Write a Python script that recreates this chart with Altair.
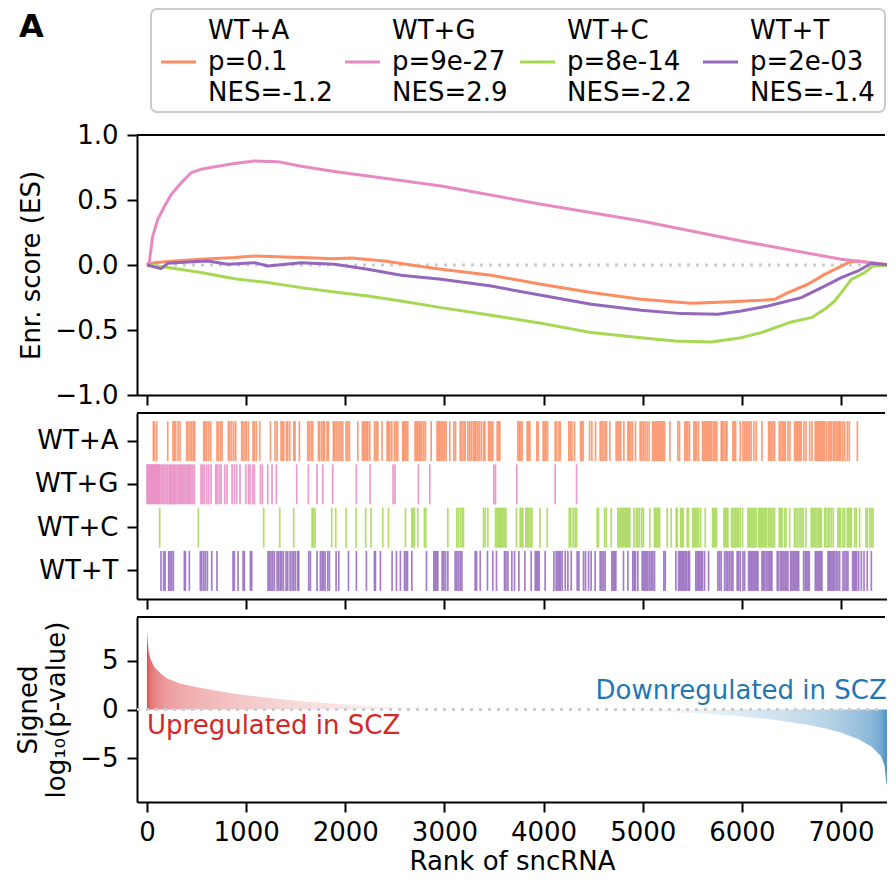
import altair as alt
import pandas as pd

# ---------------- data ----------------
SETS = ["WT+A", "WT+G", "WT+C", "WT+T"]
COLORS = ["#fc8d62", "#e78ac3", "#a6d854", "#9467bd"]
P_LABELS = ["0.1", "9e-27", "8e-14", "2e-03"]
NES_LABELS = ["-1.2", "2.9", "-2.2", "-1.4"]
PANEL_LABEL = "A"

# running enrichment score curves (rank, ES)
ES_A_RANK = [0, 74, 276, 545, 881, 1083, 1554, 1890, 2059, 2395, 2732, 2967, 3471, 3976, 4480,
             4985, 5490, 5826, 6196, 6330, 6465, 6667, 6835, 7003, 7087, 7165, 7490]
ES_A_VAL = [0, 0.018, 0.03, 0.044, 0.057, 0.07, 0.057, 0.049, 0.054, 0.031, -0.008, -0.033, -0.079,
            -0.148, -0.212, -0.264, -0.295, -0.285, -0.272, -0.264, -0.212, -0.148, -0.072, -0.008,
            0.023, 0.03, 0.0]
ES_G_RANK = [0, 23, 57, 108, 175, 242, 343, 444, 545, 713, 881, 1083, 1319, 1554, 1890, 2227, 2563,
             2967, 3976, 4985, 5994, 7003, 7306, 7490]
ES_G_VAL = [0, 0.02, 0.22, 0.35, 0.45, 0.54, 0.63, 0.71, 0.736, 0.76, 0.78, 0.80, 0.795, 0.76, 0.72,
            0.685, 0.65, 0.608, 0.467, 0.338, 0.185, 0.044, 0.018, 0.0]
ES_C_RANK = [0, 209, 545, 881, 1218, 1554, 1890, 2227, 2563, 2967, 3471, 3976, 4480, 4985, 5321,
             5691, 5994, 6196, 6499, 6701, 6835, 6936, 7003, 7104, 7238, 7322, 7490]
ES_C_VAL = [0, -0.02, -0.058, -0.105, -0.135, -0.174, -0.208, -0.238, -0.277, -0.328, -0.387,
            -0.448, -0.52, -0.559, -0.585, -0.592, -0.559, -0.52, -0.438, -0.405, -0.341, -0.277,
            -0.212, -0.11, -0.058, -0.008, 0.0]
ES_T_RANK = [0, 141, 209, 411, 612, 814, 1083, 1218, 1554, 1890, 2227, 2563, 2967, 3471, 3976, 4480,
             4985, 5389, 5759, 5994, 6263, 6599, 6835, 7003, 7171, 7306, 7490]
ES_T_VAL = [0, -0.028, 0.013, 0.023, 0.031, 0.005, 0.018, -0.008, 0.018, 0.005, -0.033, -0.079,
            -0.11, -0.162, -0.233, -0.302, -0.348, -0.374, -0.379, -0.354, -0.315, -0.251, -0.162,
            -0.097, -0.046, 0.013, 0.0]

# gene-set hits (ranks)
HITS_A = [64, 74, 98, 209, 262, 276, 289, 313, 333, 400, 414, 434, 451, 468, 481, 572, 585, 602, 622,
          643, 706, 720, 740, 757, 821, 834, 854, 875, 895, 955, 969, 989, 1002, 1023, 1070, 1083,
          1103, 1137, 1245, 1292, 1312, 1352, 1366, 1379, 1406, 1419, 1440, 1480, 1493, 1537, 1621,
          1635, 1655, 1672, 1729, 1742, 1763, 1779, 1789, 1816, 1830, 1880, 1890, 1907, 1924, 1941,
          1958, 1974, 2008, 2025, 2042, 2126, 2173, 2186, 2200, 2217, 2227, 2247, 2294, 2311, 2328,
          2371, 2422, 2435, 2449, 2469, 2496, 2513, 2529, 2580, 2590, 2603, 2617, 2630, 2704, 2718,
          2731, 2745, 2758, 2772, 2792, 2809, 2866, 2926, 2940, 2953, 2967, 2984, 3000, 3017, 3054,
          3095, 3112, 3159, 3176, 3196, 3209, 3236, 3253, 3270, 3290, 3303, 3317, 3334, 3350, 3371,
          3394, 3408, 3445, 3458, 3472, 3488, 3532, 3546, 3559, 3741, 3754, 3768, 3784, 3835, 3848,
          3862, 3932, 3946, 3996, 4010, 4023, 4040, 4117, 4131, 4154, 4168, 4255, 4269, 4286, 4312,
          4373, 4386, 4400, 4464, 4487, 4524, 4571, 4588, 4604, 4621, 4635, 4668, 4732, 4749, 4763,
          4779, 4810, 4850, 4863, 4880, 4897, 4927, 4974, 4991, 5008, 5025, 5045, 5065, 5099, 5112,
          5126, 5139, 5153, 5166, 5180, 5193, 5207, 5220, 5274, 5355, 5371, 5425, 5439, 5455, 5472,
          5516, 5529, 5543, 5563, 5603, 5617, 5630, 5644, 5657, 5671, 5684, 5698, 5718, 5731, 5748,
          5792, 5805, 5819, 5839, 5849, 5910, 5923, 5937, 5984, 6011, 6028, 6044, 6061, 6078, 6095,
          6122, 6145, 6203, 6270, 6283, 6297, 6314, 6330, 6377, 6394, 6411, 6425, 6438, 6465, 6485,
          6532, 6546, 6559, 6573, 6586, 6599, 6626, 6647, 6684, 6707, 6741, 6754, 6768, 6781, 6795,
          6808, 6821, 6835, 6855, 6875, 6889, 6902, 6922, 6936, 6953, 6969, 6983, 6996, 7017, 7037,
          7064, 7084, 7165]
HITS_G = [0, 10, 20, 30, 40, 50, 61, 71, 81, 91, 101, 111, 121, 131, 148, 161, 175, 192, 209, 225,
          236, 249, 262, 276, 289, 303, 320, 333, 346, 360, 373, 387, 404, 417, 431, 444, 461, 478,
          545, 562, 579, 602, 622, 646, 693, 706, 727, 747, 784, 807, 858, 881, 905, 938, 996, 1023,
          1039, 1066, 1083, 1144, 1164, 1218, 1261, 1305, 1510, 1628, 1715, 1773, 1873, 2112, 2250,
          2482, 2502, 2738, 2852, 3498, 3515, 3730, 4117, 4333]
HITS_C = [128, 518, 1177, 1339, 1480, 1665, 1678, 1695, 1863, 1904, 2008, 2109, 2206, 2260, 2378,
          2435, 2607, 2671, 2684, 2698, 2731, 2798, 2812, 3034, 3125, 3142, 3162, 3179, 3192, 3394,
          3411, 3438, 3515, 3529, 3542, 3556, 3566, 3579, 3593, 3606, 3620, 3727, 3764, 3778, 3791,
          3821, 3835, 3848, 3865, 3882, 3963, 4037, 4259, 4275, 4299, 4319, 4333, 4541, 4554, 4615,
          4632, 4682, 4749, 4763, 4776, 4790, 4803, 4817, 4830, 4843, 4857, 4870, 4911, 4934, 4951,
          4968, 4991, 5008, 5072, 5119, 5129, 5143, 5156, 5170, 5247, 5288, 5338, 5348, 5382, 5395,
          5409, 5449, 5462, 5506, 5520, 5533, 5547, 5563, 5584, 5631, 5705, 5718, 5731, 5745, 5819,
          5832, 5846, 5859, 5896, 5910, 5927, 5940, 5954, 5967, 5984, 6007, 6061, 6075, 6088, 6102,
          6115, 6129, 6145, 6169, 6182, 6196, 6209, 6223, 6236, 6250, 6270, 6283, 6297, 6314, 6330,
          6377, 6391, 6404, 6431, 6445, 6482, 6532, 6546, 6566, 6586, 6603, 6620, 6647, 6700, 6714,
          6727, 6741, 6758, 6774, 6788, 6801, 6835, 6848, 6869, 6882, 6902, 6922, 6969, 6983, 6996,
          7020, 7037, 7064, 7077, 7091, 7104, 7138, 7154, 7188, 7252, 7265, 7289, 7306, 7323]
HITS_T = [141, 168, 182, 219, 232, 249, 266, 377, 387, 427, 538, 552, 572, 589, 609, 653, 706, 868,
          881, 918, 969, 982, 1043, 1056, 1221, 1234, 1251, 1268, 1285, 1312, 1329, 1346, 1359, 1376,
          1403, 1419, 1443, 1463, 1480, 1497, 1520, 1530, 1631, 1648, 1715, 1749, 1766, 1779, 1796,
          1823, 1840, 1907, 1934, 2032, 2112, 2213, 2294, 2304, 2354, 2472, 2516, 2556, 2597, 2613,
          2627, 2671, 2819, 2893, 2906, 2920, 2933, 2977, 2994, 3011, 3034, 3108, 3125, 3142, 3159,
          3176, 3310, 3324, 3361, 3434, 3488, 3525, 3606, 3620, 3640, 3680, 3707, 3751, 3811, 3875,
          3916, 3929, 3942, 3956, 4016, 4104, 4127, 4144, 4158, 4171, 4188, 4218, 4245, 4279, 4339,
          4356, 4403, 4423, 4454, 4480, 4520, 4571, 4588, 4604, 4621, 4689, 4702, 4716, 4729, 4806,
          4850, 4900, 4914, 4927, 4951, 4995, 5008, 5022, 5035, 5052, 5069, 5085, 5102, 5119, 5213,
          5227, 5334, 5361, 5375, 5388, 5402, 5415, 5429, 5442, 5459, 5472, 5536, 5550, 5563, 5577,
          5590, 5603, 5624, 5664, 5758, 5775, 5792, 5826, 5843, 5859, 5876, 5893, 5910, 5953, 5967,
          5984, 6011, 6028, 6068, 6081, 6095, 6108, 6122, 6135, 6149, 6162, 6203, 6216, 6229, 6246,
          6263, 6277, 6290, 6303, 6357, 6371, 6391, 6404, 6418, 6435, 6448, 6465, 6492, 6505, 6519,
          6532, 6546, 6559, 6573, 6623, 6640, 6653, 6667, 6680, 6741, 6754, 6768, 6781, 6795, 6808,
          6869, 6882, 6895, 6909, 6922, 6936, 6953, 6969, 6986, 7020, 7037, 7054, 7070, 7117, 7131,
          7144, 7158, 7178, 7205, 7232, 7265, 7306]

# signed log10 p-value profile
POS_RANK = [0, 7, 17, 40, 74, 141, 209, 343, 545, 881, 1218, 1554, 1890, 2227, 2563, 2900, 3300, 3800]
POS_VAL = [8.0, 6.95, 5.9, 5.05, 4.37, 3.68, 3.16, 2.65, 2.2, 1.62, 1.2, 0.86, 0.59, 0.35, 0.18,
           0.07, 0.02, 0.0]
NEG_RANK = [4200, 4649, 4985, 5321, 5657, 5994, 6330, 6667, 6835, 7003, 7171, 7306, 7400, 7440,
            7457, 7462]
NEG_VAL = [0.0, -0.03, -0.13, -0.27, -0.44, -0.72, -1.06, -1.58, -1.92, -2.4, -3.02, -3.81, -4.74,
           -5.77, -7.66, -7.7]

ANNOT_TEXT = ["Upregulated in SCZ", "Downregulated in SCZ"]
ANNOT_RANK = [0, 7462]
ANNOT_VAL = [-2.5, 1.05]
ANNOT_COLOR = ["#d62728", "#1f77b4"]

X_TICKS = [0, 1000, 2000, 3000, 4000, 5000, 6000, 7000]

# ---------------- styling ----------------
FONT = "DejaVu Sans"
W = 750
X_DOMAIN = [-101, 7464]
ZERO_GREY = "#cccccc"
H_LEG, H_ES, H_BAR, H_P = 108, 260, 186, 185


def xenc(labels=False, title=None):
    return alt.X("rank:Q", scale=alt.Scale(domain=X_DOMAIN, nice=False, zero=False),
                 axis=alt.Axis(values=X_TICKS, labels=labels, title=title, format="d",
                               labelPadding=7, titlePadding=3, labelFlush=False))


def grad(ranks, vals, rgb, vmax):
    r0, r1 = min(ranks), max(ranks)
    stops = []
    for r, v in zip(ranks, vals):
        a = (min(1.0, abs(v) / vmax) ** 0.75) * 0.9
        c = tuple(int(round(255 - a * (255 - ch))) for ch in rgb)
        stops.append(alt.GradientStop(color="#%02x%02x%02x" % c, offset=(r - r0) / (r1 - r0)))
    return alt.LinearGradient(gradient="linear", stops=stops, x1=0, x2=1, y1=0, y2=0)


ONE = pd.DataFrame({"k": [0]})
color_enc = alt.Color("set:N", scale=alt.Scale(domain=SETS, range=COLORS), legend=None)


def frame_top():
    return alt.Chart(ONE).mark_rule(color="black", strokeWidth=2).encode(
        x=alt.value(0), x2=alt.value(W - 2), y=alt.value(0))


# ---------------- legend panel ----------------
leg_df = pd.DataFrame({
    "idx": [0, 1, 2, 3],
    "set": SETS,
    "label": [f"{s}\np={p}\nNES={n}" for s, p, n in zip(SETS, P_LABELS, NES_LABELS)],
})
LEG_X = alt.Scale(domain=[0, 1, 2, 3], range=[71, 255, 430, 613], zero=False, nice=False)
leg_box = alt.Chart(ONE).mark_rect(fill="white", stroke="#cccccc", strokeWidth=2, cornerRadius=6).encode(
    x=alt.value(14), x2=alt.value(748), y=alt.value(0), y2=alt.value(103))
leg_lines = alt.Chart(leg_df).mark_rule(strokeWidth=3, xOffset=-47, x2Offset=-12).encode(
    x=alt.X("idx:Q", scale=LEG_X, axis=None), x2=alt.X2("idx"), y=alt.value(53), color=color_enc)
leg_text = alt.Chart(leg_df).mark_text(align="left", baseline="alphabetic", fontSize=26, font=FONT,
                                       lineBreak="\n", lineHeight=31, color="black").encode(
    x=alt.X("idx:Q", scale=LEG_X, axis=None), y=alt.value(30), text="label:N")
panel_a = alt.Chart(pd.DataFrame({"t": [PANEL_LABEL]})).mark_text(
    align="left", baseline="alphabetic", fontSize=32, fontWeight="bold", font=FONT, color="black").encode(
    x=alt.value(-118), y=alt.value(28), text="t:N")
legend_panel = alt.layer(leg_box, leg_lines, leg_text, panel_a).properties(width=W, height=H_LEG)

# ---------------- ES panel ----------------
es_df = pd.concat([
    pd.DataFrame({"set": s, "rank": r, "es": v})
    for s, r, v in [("WT+A", ES_A_RANK, ES_A_VAL), ("WT+G", ES_G_RANK, ES_G_VAL),
                    ("WT+C", ES_C_RANK, ES_C_VAL), ("WT+T", ES_T_RANK, ES_T_VAL)]
], ignore_index=True)
Y_ES = alt.Y("es:Q", scale=alt.Scale(domain=[-1, 1], nice=False, zero=False),
             axis=alt.Axis(values=[-1, -0.5, 0, 0.5, 1], format=".1f", title="Enr. score (ES)",
                           titleX=-98, titleY=H_ES / 2, titleAngle=-90, titleBaseline="alphabetic",
                           titleAlign="center", labelPadding=9))
zero_es = alt.Chart(ONE).mark_rule(color=ZERO_GREY, strokeWidth=3, strokeDash=[3, 6]).encode(
    x=alt.value(10), x2=alt.value(W - 3), y=alt.value(H_ES / 2))
es_lines = alt.Chart(es_df).mark_line(strokeWidth=3, strokeJoin="round", clip=True).encode(
    x=xenc(), y=Y_ES, color=color_enc, detail="set:N")
es_panel = alt.layer(zero_es, es_lines, frame_top()).properties(width=W, height=H_ES)

# ---------------- barcode panel ----------------
hits_df = pd.concat([
    pd.DataFrame({"set": s, "rank": h})
    for s, h in [("WT+A", HITS_A), ("WT+G", HITS_G), ("WT+C", HITS_C), ("WT+T", HITS_T)]
], ignore_index=True)
bar_ticks = alt.Chart(hits_df).mark_tick(thickness=1.7, size=40, opacity=0.85).encode(
    x=xenc(),
    y=alt.Y("set:N", sort=SETS, scale=alt.Scale(domain=SETS, paddingInner=0, paddingOuter=0.15),
            axis=alt.Axis(title=None, labelPadding=9)),
    color=color_enc)
bar_panel = alt.layer(bar_ticks, frame_top()).properties(width=W, height=H_BAR)

# ---------------- signed p-value panel ----------------
Y_P = alt.Y("val:Q", scale=alt.Scale(domain=[-9.5, 9.5], nice=False, zero=False),
            axis=alt.Axis(values=[-5, 0, 5], format="d", title=["Signed", "log₁₀(p-value)"],
                          titleX=-101, titleY=H_P / 2, titleAngle=-90, titleBaseline="alphabetic",
                          titleAlign="center", titleLineHeight=28, labelPadding=9))
X_P = xenc(True, "Rank of sncRNA")
pos_df = pd.DataFrame({"rank": POS_RANK, "val": POS_VAL, "zero": 0.0})
neg_df = pd.DataFrame({"rank": NEG_RANK, "val": NEG_VAL, "zero": 0.0})
pos_area = alt.Chart(pos_df).mark_area(color=grad(POS_RANK, POS_VAL, (214, 39, 40), 8.0), clip=True).encode(
    x=X_P, y=Y_P, y2=alt.Y2("zero"))
neg_area = alt.Chart(neg_df).mark_area(color=grad(NEG_RANK, NEG_VAL, (31, 119, 180), 7.7), clip=True).encode(
    x=X_P, y=Y_P, y2=alt.Y2("zero"))
zero_p = alt.Chart(ONE).mark_rule(color=ZERO_GREY, strokeWidth=3, strokeDash=[3, 6]).encode(
    x=alt.value(0), x2=alt.value(W - 3), y=alt.value(H_P / 2))
up_df = pd.DataFrame({"rank": [ANNOT_RANK[0]], "val": [ANNOT_VAL[0]], "t": [ANNOT_TEXT[0]]})
dn_df = pd.DataFrame({"rank": [ANNOT_RANK[1]], "val": [ANNOT_VAL[1]], "t": [ANNOT_TEXT[1]]})
up_txt = alt.Chart(up_df).mark_text(align="left", baseline="alphabetic", fontSize=26, font=FONT,
                                    color=ANNOT_COLOR[0]).encode(x=X_P, y=Y_P, text="t:N")
dn_txt = alt.Chart(dn_df).mark_text(align="right", baseline="alphabetic", fontSize=26, font=FONT,
                                    color=ANNOT_COLOR[1]).encode(x=X_P, y=Y_P, text="t:N")
p_panel = alt.layer(pos_area, neg_area, zero_p, up_txt, dn_txt, frame_top()).properties(width=W, height=H_P)

chart = alt.vconcat(legend_panel, es_panel, bar_panel, p_panel, spacing=18, bounds="flush").properties(
    padding={"left": 6, "top": 0, "right": 0, "bottom": 2}
).configure_view(stroke=None).configure_axis(
    grid=False, domainColor="black", domainWidth=2, tickColor="black", tickWidth=2, tickSize=10,
    labelFont=FONT, labelFontSize=26, labelColor="black", titleFont=FONT, titleFontSize=26,
    titleFontWeight="normal", titleColor="black", labelOverlap=False
)

chart.save("out.html", embed_options={"renderer": "svg", "actions": False})
